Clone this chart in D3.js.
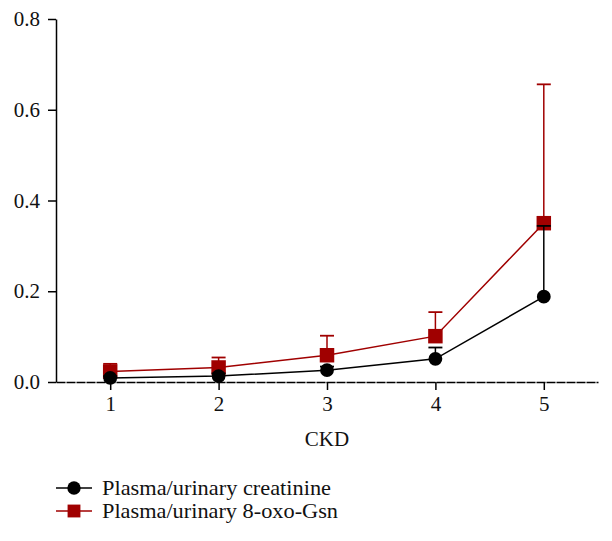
<!DOCTYPE html>
<html>
<head>
<meta charset="utf-8">
<script src="https://cdn.jsdelivr.net/npm/d3@7"></script>
<style>
  html, body { margin: 0; padding: 0; background: #fff; }
  svg { display: block; }
</style>
</head>
<body>
<div id="chart"></div>
<script>
  var stages = [1, 2, 3, 4, 5];
  var creatinineMean = [0.009, 0.013, 0.026, 0.051, 0.188];
  var creatinineErr = [0.004, 0.006, 0.008, 0.025, 0.156];
  var oxoGsnMean = [0.023, 0.032, 0.059, 0.101, 0.350];
  var oxoGsnErr = [0.017, 0.022, 0.043, 0.053, 0.306];
  var yTicks = [0, 0.2, 0.4, 0.6, 0.8];
  var seriesNames = ['Plasma/urinary creatinine', 'Plasma/urinary 8-oxo-Gsn'];

  var width = 612, height = 541;
  var font = '"Liberation Serif", "Times New Roman", serif';
  var red = '#a00000';

  var svg = d3.select('#chart').append('svg')
    .attr('width', width)
    .attr('height', height);

  var x = d3.scaleLinear().domain([0.5, 5.5]).range([56, 598]);
  var y = d3.scaleLinear().domain([0, 0.8]).range([382, 19]);

  // y axis
  var yAxis = svg.append('g')
    .attr('transform', 'translate(56,0)')
    .call(d3.axisLeft(y).tickValues(yTicks).tickFormat(d3.format('.1f')).tickSize(8).tickSizeOuter(0));
  yAxis.select('.domain').attr('stroke-width', 1.5);
  yAxis.selectAll('.tick line').attr('stroke-width', 1.5);
  yAxis.selectAll('.tick text')
    .attr('font-family', font).attr('font-size', 21).attr('fill', '#111').attr('x', -16);

  // x axis
  var xAxis = svg.append('g')
    .attr('transform', 'translate(0,382)')
    .call(d3.axisBottom(x).tickValues(stages).tickFormat(d3.format('d')).tickSize(8).tickSizeOuter(0));
  xAxis.select('.domain').attr('stroke-width', 1.5).attr('stroke-dasharray', '9,1');
  xAxis.selectAll('.tick line').attr('stroke-width', 1.5);
  xAxis.selectAll('.tick text')
    .attr('font-family', font).attr('font-size', 21).attr('fill', '#111').attr('y', 14);

  svg.append('text')
    .attr('x', x(3)).attr('y', 446)
    .attr('text-anchor', 'middle')
    .attr('font-family', font).attr('font-size', 21).attr('fill', '#111')
    .text('CKD');

  function drawSeries(means, errs, color, shape) {
    var pts = stages.map(function (s, i) { return { x: s, m: means[i], e: errs[i] }; });
    var g = svg.append('g');
    // error bars (upper only)
    g.selectAll('line.err').data(pts).enter().append('line')
      .attr('x1', function (d) { return x(d.x); })
      .attr('x2', function (d) { return x(d.x); })
      .attr('y1', function (d) { return y(d.m); })
      .attr('y2', function (d) { return y(d.m + d.e); })
      .attr('stroke', color).attr('stroke-width', 1.5);
    g.selectAll('line.cap').data(pts).enter().append('line')
      .attr('x1', function (d) { return x(d.x) - 7; })
      .attr('x2', function (d) { return x(d.x) + 7; })
      .attr('y1', function (d) { return y(d.m + d.e); })
      .attr('y2', function (d) { return y(d.m + d.e); })
      .attr('stroke', color).attr('stroke-width', 1.8);
    g.append('path').datum(pts)
      .attr('fill', 'none').attr('stroke', color).attr('stroke-width', 1.5)
      .attr('d', d3.line().x(function (d) { return x(d.x); }).y(function (d) { return y(d.m); }));
    var sym = d3.symbol().type(shape === 'circle' ? d3.symbolCircle : d3.symbolSquare)
      .size(shape === 'circle' ? 150 : 210);
    g.selectAll('path.pt').data(pts).enter().append('path')
      .attr('transform', function (d) { return 'translate(' + x(d.x) + ',' + y(d.m) + ')'; })
      .attr('d', sym).attr('fill', color);
  }

  drawSeries(oxoGsnMean, oxoGsnErr, red, 'square');
  drawSeries(creatinineMean, creatinineErr, '#000', 'circle');

  // legend
  var legend = [
    { name: seriesNames[0], color: '#000', shape: d3.symbolCircle, size: 140, y: 488, w: 229 },
    { name: seriesNames[1], color: red, shape: d3.symbolSquare, size: 165, y: 511, w: 236 }
  ];
  var lg = svg.append('g').selectAll('g').data(legend).enter().append('g')
    .attr('transform', function (d) { return 'translate(0,' + d.y + ')'; });
  lg.append('line').attr('x1', 56).attr('x2', 92).attr('y1', 0).attr('y2', 0)
    .attr('stroke', function (d) { return d.color; }).attr('stroke-width', 1.5);
  lg.append('path').attr('transform', 'translate(74,0)')
    .attr('d', function (d) { return d3.symbol().type(d.shape).size(d.size)(); })
    .attr('fill', function (d) { return d.color; });
  lg.append('text').attr('x', 102).attr('y', 7)
    .attr('font-family', font).attr('font-size', 21).attr('fill', '#111')
    .attr('textLength', function (d) { return d.w; })
    .attr('lengthAdjust', 'spacingAndGlyphs')
    .text(function (d) { return d.name; });
</script>
</body>
</html>
